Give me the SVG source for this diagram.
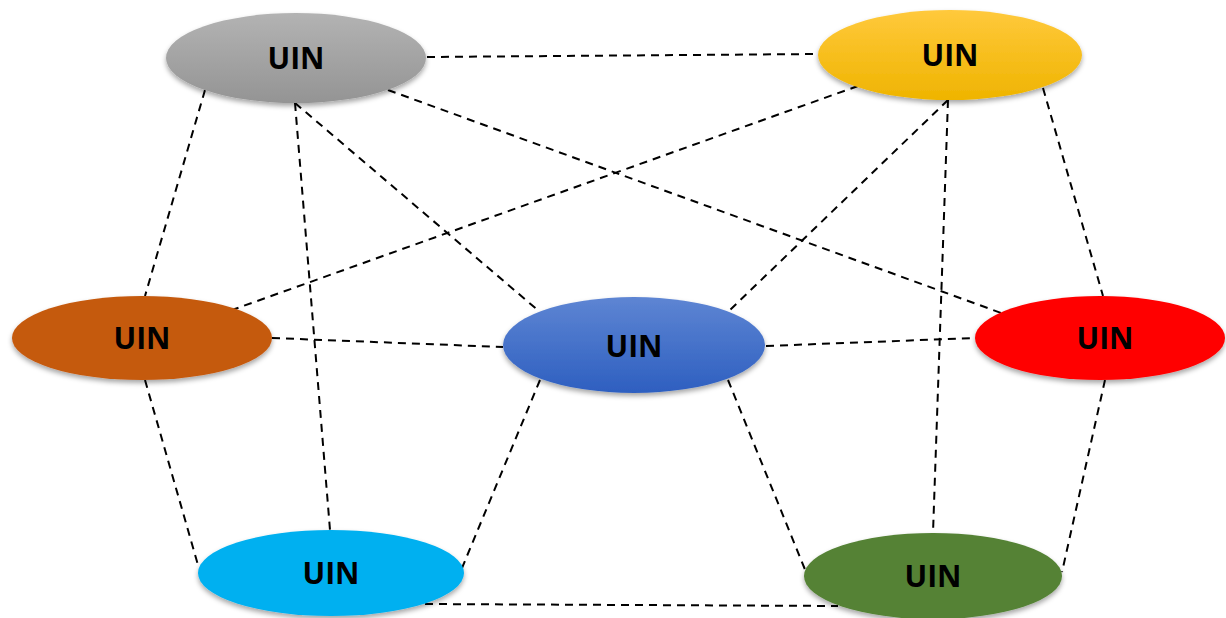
<svg xmlns="http://www.w3.org/2000/svg" width="1226" height="618" viewBox="0 0 1226 618">
<style>
.edge{stroke:#000;stroke-width:2;stroke-dasharray:8 6;fill:none}
.lbl{font-family:"Open Sans","Liberation Sans",sans-serif;font-weight:bold;font-size:30px;text-anchor:middle;fill:#000}
.node ellipse{filter:url(#sh)}
</style>
<defs>
<filter id="sh" x="-10%" y="-20%" width="120%" height="150%">
<feDropShadow dx="0" dy="3" stdDeviation="2.5" flood-color="#000" flood-opacity="0.35"/>
</filter>
<linearGradient id="gGray" x1="0" y1="0" x2="0" y2="1"><stop offset="0" stop-color="#b3b3b3"/><stop offset="1" stop-color="#949494"/></linearGradient>
<linearGradient id="gYel" x1="0" y1="0" x2="0" y2="1"><stop offset="0" stop-color="#ffc93c"/><stop offset="1" stop-color="#efb400"/></linearGradient>
<linearGradient id="gBlue" x1="0" y1="0" x2="0" y2="1"><stop offset="0" stop-color="#5e85d3"/><stop offset="1" stop-color="#2e5fc0"/></linearGradient>
</defs>
<g id="connectors">
<line class="edge" x1="427" y1="57" x2="818" y2="54"/>
<line class="edge" x1="205" y1="90" x2="145" y2="296"/>
<line class="edge" x1="295" y1="103" x2="330" y2="530"/>
<line class="edge" x1="295" y1="103" x2="540" y2="312"/>
<line class="edge" x1="388" y1="90" x2="1015" y2="318"/>
<line class="edge" x1="858" y1="86" x2="232" y2="310"/>
<line class="edge" x1="948" y1="100" x2="730" y2="310"/>
<line class="edge" x1="948" y1="100" x2="933" y2="533"/>
<line class="edge" x1="1043" y1="88" x2="1103" y2="296"/>
<line class="edge" x1="272" y1="338" x2="503" y2="347"/>
<line class="edge" x1="145" y1="380" x2="198" y2="565"/>
<line class="edge" x1="766" y1="346" x2="975" y2="338"/>
<line class="edge" x1="540" y1="380" x2="462" y2="568"/>
<line class="edge" x1="728" y1="380" x2="806" y2="572"/>
<line class="edge" x1="1105" y1="380" x2="1062" y2="572"/>
<line class="edge" x1="425" y1="604" x2="838" y2="606"/>
</g>
<g id="n-gray" class="node"><ellipse cx="296" cy="58" rx="130" ry="45" fill="url(#gGray)"/><text class="lbl" x="296" y="69">UIN</text></g>
<g id="n-yellow" class="node"><ellipse cx="950" cy="55" rx="132" ry="45" fill="url(#gYel)"/><text class="lbl" x="950" y="66">UIN</text></g>
<g id="n-orange" class="node"><ellipse cx="142" cy="338" rx="130" ry="42" fill="#c55a11"/><text class="lbl" x="142" y="349">UIN</text></g>
<g id="n-blue" class="node"><ellipse cx="634" cy="345" rx="131" ry="48" fill="url(#gBlue)"/><text class="lbl" x="634" y="357">UIN</text></g>
<g id="n-red" class="node"><ellipse cx="1100" cy="338" rx="125" ry="42" fill="#ff0000"/><text class="lbl" x="1105" y="349">UIN</text></g>
<g id="n-cyan" class="node"><ellipse cx="331" cy="573" rx="133" ry="43" fill="#00b0f0"/><text class="lbl" x="331" y="584">UIN</text></g>
<g id="n-green" class="node"><ellipse cx="933" cy="576" rx="129" ry="43" fill="#548235"/><text class="lbl" x="933" y="587">UIN</text></g>
</svg>
